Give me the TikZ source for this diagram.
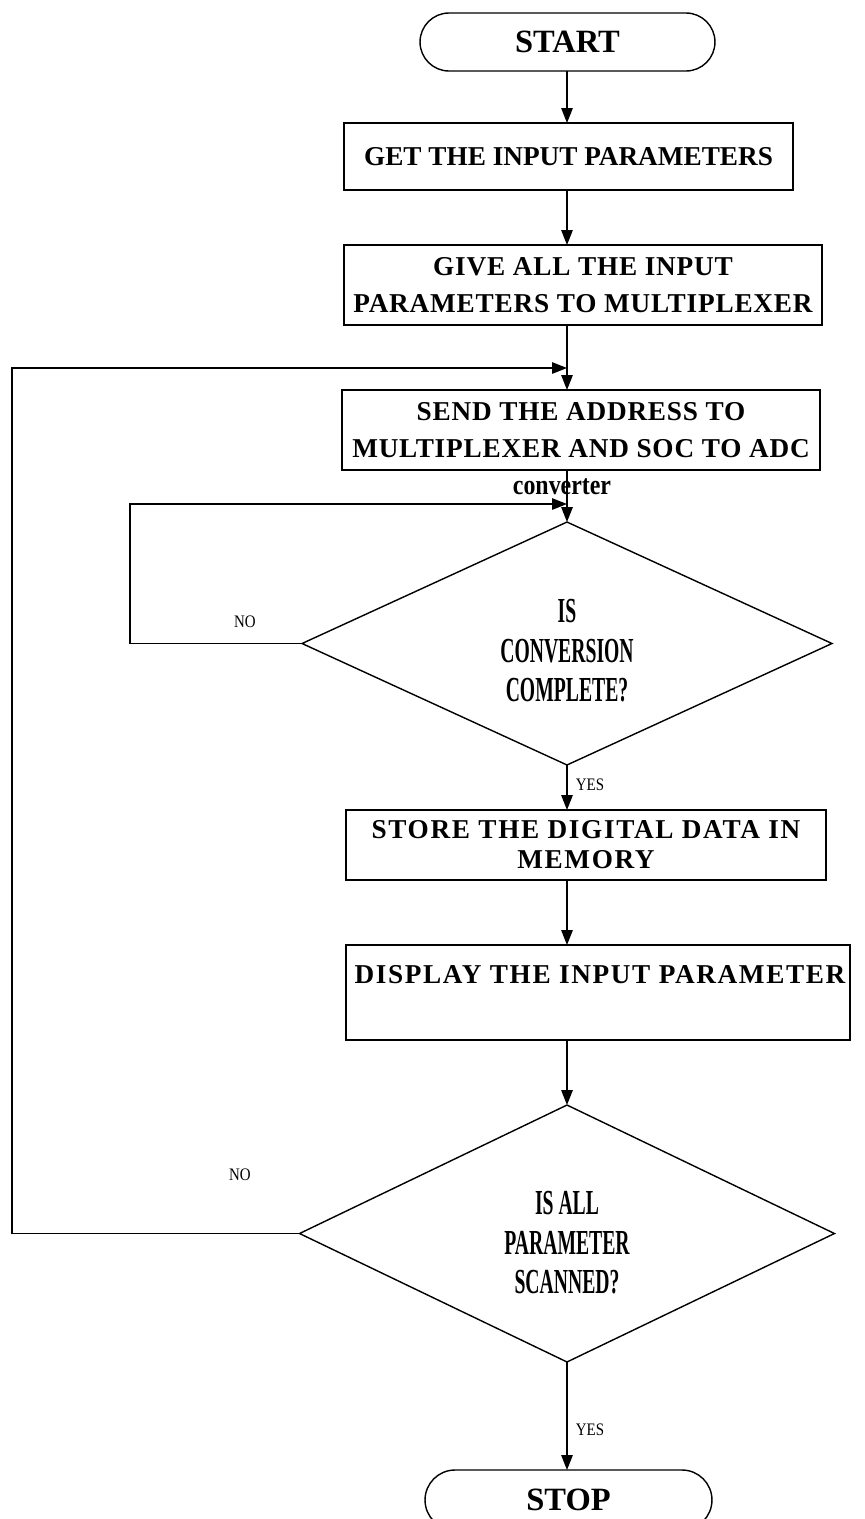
\documentclass[tikz,border=0pt]{standalone}
\usepackage{fontspec}
\setmainfont{Liberation Serif}
\newfontfamily\condserif{Liberation Serif}[FakeStretch=0.56]
\newfontfamily\semicond{Liberation Serif}[FakeStretch=0.85]
\newfontfamily\trackA{Liberation Serif}[LetterSpace=3]
\newfontfamily\trackB{Liberation Serif}[LetterSpace=6]
\usetikzlibrary{shapes.geometric,shapes.misc,arrows.meta}
\newcommand\bxft{\fontsize{15.5}{21}\selectfont\bfseries}
\newcommand\bxfta{\trackA\fontsize{15.5}{21}\selectfont\bfseries}
\newcommand\bxftb{\trackB\fontsize{15.5}{17}\selectfont\bfseries}
\newcommand\bxftc{\trackB\fontsize{15.5}{21}\selectfont\bfseries}
\newcommand\termft{\fontsize{18.5}{22}\selectfont\bfseries}
\newcommand\decft{\condserif\fontsize{20}{22.5}\selectfont\bfseries}
\newcommand\lblft{\semicond\fontsize{10}{12}\selectfont}
\newcommand\convft{\semicond\fontsize{16}{18}\selectfont\bfseries}
\begin{document}
\begin{tikzpicture}[x=0.02cm,y=-0.02cm,
  every node/.style={inner sep=0pt, outer sep=0pt},
  box/.style={draw, line width=0.8pt, rectangle, align=center, font=\bxft},
  term/.style={draw, line width=0.8pt, rounded rectangle, font=\termft},
  dec/.style={draw, line width=0.8pt, diamond},
  dectext/.style={align=center, font=\decft},
  lbl/.style={font=\lblft},
  arr/.style={line width=0.8pt, -{Triangle[length=8.5pt,width=6.5pt]}},
  ln/.style={line width=0.8pt}]
\useasboundingbox (0,0) rectangle (865,1519);
\clip (0,0) rectangle (865,1519);
\coordinate (axis) at (567,0);

\node[term, minimum width=5.9cm, minimum height=1.16cm] (start) at (567.5,42) {START};
\node[box, minimum width=8.98cm, minimum height=1.34cm] (b1) at (568.5,156.5) {GET THE INPUT PARAMETERS};
\node[box, font=\bxfta, minimum width=9.56cm, minimum height=1.6cm] (b2) at (583,285) {GIVE ALL THE INPUT\\PARAMETERS TO MULTIPLEXER};
\node[box, font=\bxfta, minimum width=9.56cm, minimum height=1.6cm] (b3) at (581,430) {SEND THE ADDRESS TO\\MULTIPLEXER AND SOC TO ADC};
\node[font=\convft] (conv) at (562,487) {converter};
\node[dec, minimum width=10.6cm, minimum height=4.86cm] (d1) at (567,643.5) {};
\node[dectext] (d1t) at (567,651) {IS\\CONVERSION\\COMPLETE?};
\node[box, font=\bxftb, minimum width=9.6cm, minimum height=1.4cm] (b4) at (586,845) {STORE THE DIGITAL DATA IN\\MEMORY};
\node[box, minimum width=10.08cm, minimum height=1.9cm] (b5) at (598,992.5) {};
\node[font=\bxftc] (b5t) at (600,975) {DISPLAY THE INPUT PARAMETER};
\node[dec, minimum width=10.7cm, minimum height=5.14cm] (d2) at (567,1233.5) {};
\node[dectext] (d2t) at (567,1243) {IS ALL\\PARAMETER\\SCANNED?};
\node[term, minimum width=5.74cm, minimum height=1.2cm] (stop) at (568.5,1500) {STOP};

\node[lbl] (no1) at (245,622) {NO};
\node[lbl] (yes1) at (590,785) {YES};
\node[lbl] (no2) at (240,1175) {NO};
\node[lbl] (yes2) at (590,1430) {YES};

\coordinate (j1) at (567,368);
\coordinate (j2) at (567,504);

\draw[arr] (axis |- start.south) -- (axis |- b1.north);
\draw[arr] (axis |- b1.south) -- (axis |- b2.north);
\draw[arr] (axis |- b2.south) -- (axis |- b3.north);
\draw[arr] (axis |- b3.south) -- (d1.north);
\draw[arr] (d1.south) -- (axis |- b4.north);
\draw[arr] (axis |- b4.south) -- (axis |- b5.north);
\draw[arr] (axis |- b5.south) -- (d2.north);
\draw[arr] (d2.south) -- (axis |- stop.north);

\draw[arr] (d1.west) -- (130,643.5) -- (130,504) -- (j2);
\draw[arr] (d2.west) -- (12,1233.5) -- (12,368) -- (j1);
\end{tikzpicture}
\end{document}
